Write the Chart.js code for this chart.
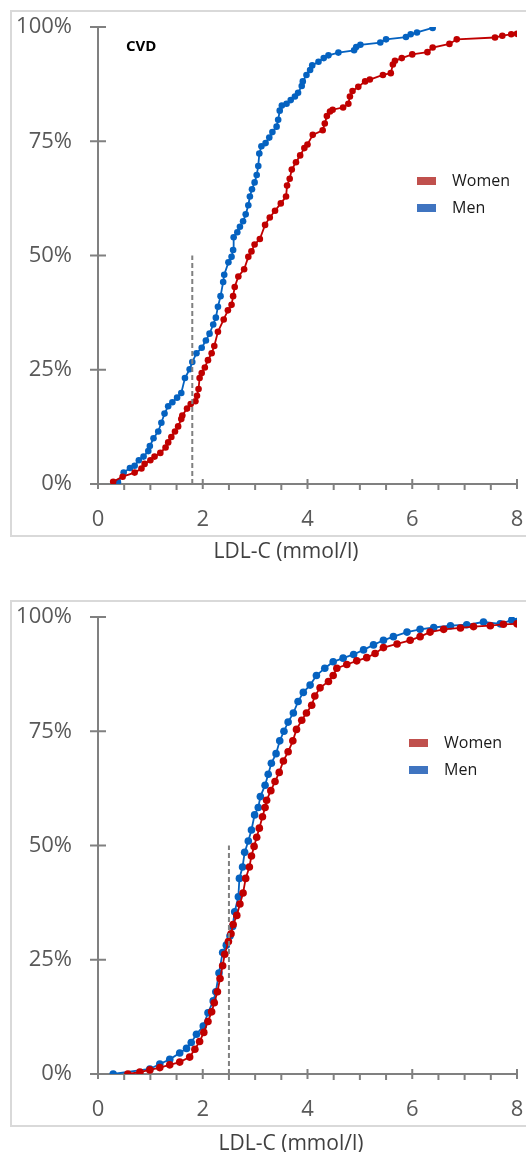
<!DOCTYPE html>
<html>
<head>
<meta charset="utf-8">
<script src="https://cdn.jsdelivr.net/npm/chart.js@4.4.1/dist/chart.umd.min.js"></script>
<style>
  body { margin: 0; width: 526px; height: 1152px; overflow: hidden; background: #fff; font-family: "Open Sans", sans-serif; }
  .panel { position: relative; width: 526px; height: 590px; }
  .frame { position: absolute; left: 10px; top: 10px; width: 620px; height: 527px; border: 2px solid #d9d9d9; box-sizing: border-box; }
  .xtitle { position: absolute; font-size: 21px; color: #404040; transform: translate(-50%, -50%); white-space: nowrap; }
  canvas { position: absolute; left: 0; top: 0; }
</style>
</head>
<body>
<div class="panel">
  <div class="frame"></div>
  <canvas id="cvd"></canvas>
  <div class="xtitle" style="left:286px; top:550px;">LDL-C (mmol/l)</div>
</div>
<div class="panel">
  <div class="frame"></div>
  <canvas id="all"></canvas>
  <div class="xtitle" style="left:291px; top:552px;">LDL-C (mmol/l)</div>
</div>
<script>
// ticks shared by both panels
const xTicks = [0, 2, 4, 6, 8];
const yTicks = [0, 25, 50, 75, 100];

// CVD panel: cumulative share (%) against LDL-C (mmol/l)
const cvdWomenLdl = [0.29, 0.47, 0.70, 0.83, 0.89, 1.00, 1.08, 1.19, 1.29, 1.34, 1.40, 1.47, 1.53, 1.59, 1.61, 1.70, 1.77, 1.86, 1.89, 1.92,
  1.94, 1.98, 2.04, 2.10, 2.17, 2.22, 2.29, 2.40, 2.48, 2.55, 2.58, 2.61, 2.68, 2.79, 2.87, 2.93, 2.99, 3.09, 3.19, 3.28,
  3.38, 3.49, 3.59, 3.61, 3.66, 3.70, 3.78, 3.86, 3.94, 4.00, 4.10, 4.29, 4.33, 4.37, 4.43, 4.48, 4.68, 4.78, 4.81, 4.86,
  4.97, 5.10, 5.19, 5.44, 5.59, 5.63, 5.67, 5.80, 6.00, 6.29, 6.39, 6.71, 6.85, 7.58, 7.72, 7.89, 8.00];
const cvdWomenPct = [0.5, 1.6, 2.5, 3.4, 4.4, 5.2, 6.0, 6.8, 8.0, 9.1, 10.3, 11.5, 12.6, 14.2, 15.0, 16.5, 17.5, 18.1, 19.3, 20.8,
  23.2, 24.3, 25.5, 27.1, 28.6, 30.2, 33.3, 36.0, 38.0, 39.2, 41.1, 43.1, 45.4, 47.0, 49.7, 50.9, 52.4, 53.6, 56.7, 58.3,
  59.8, 61.4, 62.9, 65.3, 66.8, 68.8, 70.4, 71.9, 73.5, 74.3, 76.4, 77.4, 78.9, 80.5, 81.5, 81.9, 82.4, 83.2, 84.8, 86.0,
  86.9, 88.1, 88.5, 89.5, 89.9, 91.8, 92.6, 93.2, 94.0, 94.5, 95.5, 96.3, 97.3, 97.7, 98.1, 98.4, 98.5];
const cvdMenLdl = [0.38, 0.49, 0.61, 0.70, 0.78, 0.87, 0.96, 0.99, 1.06, 1.15, 1.21, 1.27, 1.34, 1.42, 1.51, 1.59, 1.66, 1.75, 1.80, 1.88,
  1.98, 2.06, 2.13, 2.20, 2.25, 2.29, 2.34, 2.39, 2.41, 2.49, 2.55, 2.58, 2.59, 2.66, 2.71, 2.77, 2.82, 2.87, 2.90, 2.94,
  2.99, 3.03, 3.06, 3.08, 3.12, 3.20, 3.27, 3.33, 3.41, 3.44, 3.47, 3.51, 3.60, 3.68, 3.76, 3.82, 3.89, 3.91, 3.98, 4.05,
  4.09, 4.21, 4.31, 4.40, 4.59, 4.89, 4.93, 5.01, 5.39, 5.50, 5.88, 5.97, 6.09, 6.39];
const cvdMenPct = [0.4, 2.5, 3.5, 4.0, 5.2, 6.0, 7.2, 8.3, 10.0, 11.5, 13.4, 15.4, 17.0, 17.9, 18.9, 19.9, 23.2, 25.1, 26.7, 28.6,
  29.8, 31.4, 32.9, 34.9, 36.4, 38.8, 41.1, 44.2, 45.8, 48.5, 49.7, 51.2, 54.0, 55.1, 56.3, 57.5, 59.0, 61.0, 62.9, 64.5,
  66.0, 67.6, 69.6, 72.3, 73.9, 74.6, 75.8, 77.0, 78.2, 79.7, 81.7, 82.8, 83.2, 84.0, 84.8, 85.6, 87.1, 88.1, 89.5, 90.6,
  91.6, 92.4, 93.2, 93.8, 94.4, 94.9, 95.6, 96.1, 96.6, 97.3, 97.8, 98.4, 98.8, 99.8];

// second panel
const allWomenLdl = [0.57, 0.80, 0.99, 1.18, 1.37, 1.56, 1.75, 1.85, 1.94, 2.02, 2.10, 2.17, 2.22, 2.28, 2.33, 2.38, 2.42, 2.49, 2.54, 2.58,
  2.65, 2.71, 2.77, 2.82, 2.89, 2.93, 2.98, 3.03, 3.08, 3.14, 3.19, 3.22, 3.30, 3.38, 3.46, 3.54, 3.63, 3.72, 3.79, 3.89,
  3.98, 4.08, 4.14, 4.24, 4.40, 4.49, 4.56, 4.75, 4.94, 5.13, 5.29, 5.45, 5.71, 5.96, 6.15, 6.34, 6.60, 6.92, 7.17, 7.49,
  7.74, 8.00];
const allWomenPct = [0.0, 0.4, 0.9, 1.4, 2.0, 2.6, 3.7, 5.4, 7.1, 9.1, 11.5, 13.6, 15.6, 18.0, 20.9, 23.7, 26.2, 29.0, 30.7, 32.7,
  34.7, 37.2, 39.6, 42.8, 45.3, 47.7, 49.8, 51.8, 53.8, 56.3, 58.3, 59.9, 62.0, 64.0, 66.0, 68.5, 70.5, 72.9, 75.4, 77.4,
  79.0, 80.7, 82.7, 84.5, 85.9, 87.2, 88.8, 89.6, 90.4, 91.1, 92.0, 93.3, 94.1, 94.9, 95.7, 96.7, 97.3, 97.6, 97.9, 98.1,
  98.4, 98.5];
const allMenLdl = [0.29, 0.99, 1.18, 1.37, 1.56, 1.69, 1.78, 1.88, 2.01, 2.10, 2.20, 2.25, 2.31, 2.38, 2.45, 2.52, 2.57, 2.61, 2.68, 2.70,
  2.76, 2.80, 2.87, 2.93, 2.99, 3.06, 3.10, 3.19, 3.25, 3.31, 3.40, 3.47, 3.55, 3.63, 3.73, 3.82, 3.92, 4.05, 4.17, 4.33,
  4.49, 4.68, 4.88, 5.07, 5.26, 5.45, 5.64, 5.90, 6.15, 6.41, 6.73, 7.04, 7.36, 7.68, 7.90, 8.00];
const allMenPct = [0.0, 1.1, 2.2, 3.2, 4.6, 5.6, 6.9, 8.7, 10.5, 13.4, 16.0, 18.0, 22.1, 26.6, 28.2, 30.2, 32.3, 35.5, 38.8, 42.8,
  45.3, 48.5, 51.0, 53.4, 56.7, 58.3, 60.7, 63.2, 65.6, 68.0, 70.1, 72.9, 75.0, 77.0, 79.0, 81.5, 83.5, 85.1, 87.2, 88.8,
  90.2, 91.0, 91.8, 92.8, 93.9, 94.9, 95.7, 96.7, 97.3, 97.7, 98.1, 98.3, 98.9, 98.5, 99.3, 99.0];

const cvdCutoff = 1.8;
const allCutoff = 2.5;

const toPoints = (xs, ys) => xs.map((x, i) => ({ x: x, y: ys[i] }));

// Excel-like axes: crossing major ticks, small minor ticks below the x axis
const excelAxes = {
  id: 'excelAxes',
  beforeDatasetsDraw(chart, args, opts) {
    const { ctx } = chart;
    const x = chart.scales.x, y = chart.scales.y;
    const x0 = x.getPixelForValue(x.min), x1 = x.getPixelForValue(x.max);
    const yb = y.getPixelForValue(y.min), yt = y.getPixelForValue(y.max);
    ctx.save();
    ctx.strokeStyle = opts.color;
    ctx.lineWidth = opts.width;
    ctx.beginPath();
    ctx.moveTo(x0, yt);
    ctx.lineTo(x0, yb + opts.majorDown);
    ctx.moveTo(x0, yb);
    ctx.lineTo(x1, yb);
    yTicks.forEach(v => {
      const p = y.getPixelForValue(v);
      ctx.moveTo(x0 - opts.yTick, p);
      ctx.lineTo(x0 + opts.yTick, p);
    });
    for (let v = x.min; v <= x.max + 1e-9; v += opts.minorStep) {
      const p = x.getPixelForValue(v);
      if (xTicks.includes(v)) {
        ctx.moveTo(p, yb - opts.majorUp);
        ctx.lineTo(p, yb + opts.majorDown);
      } else {
        ctx.moveTo(p, yb);
        ctx.lineTo(p, yb + opts.minorDown);
      }
    }
    ctx.stroke();
    ctx.restore();
  }
};

const sideLegend = {
  id: 'sideLegend',
  afterDraw(chart, args, opts) {
    const { ctx } = chart;
    ctx.save();
    ctx.textBaseline = 'middle';
    ctx.textAlign = 'left';
    ctx.font = opts.font;
    let row = 0;
    chart.data.datasets.forEach(ds => {
      if (!ds.legendColor) return;
      const cy = opts.top + row * opts.rowGap;
      ctx.fillStyle = ds.legendColor;
      ctx.fillRect(opts.left, cy - 4, 19, 8);
      ctx.fillStyle = opts.textColor;
      ctx.fillText(ds.label, opts.left + opts.textGap, cy);
      row++;
    });
    if (opts.tag) {
      ctx.font = opts.tagFont;
      ctx.fillStyle = '#000';
      ctx.fillText(opts.tag, opts.tagX, opts.tagY);
    }
    ctx.restore();
  }
};

function makeChart(id, women, men, cutoff, legend, dot) {
  return new Chart(document.getElementById(id), {
    type: 'scatter',
    data: {
      datasets: [
        {
          label: 'cutoff',
          data: [{ x: cutoff, y: 0 }, { x: cutoff, y: 50 }],
          showLine: true,
          borderColor: '#808080',
          borderWidth: 2,
          borderDash: [5, 3],
          pointRadius: 0
        },
        {
          label: 'Women',
          data: women,
          showLine: true,
          borderColor: '#C00000',
          backgroundColor: '#C00000',
          legendColor: '#C0504D',
          borderWidth: 1.8,
          pointRadius: dot,
          pointBorderWidth: 0
        },
        {
          label: 'Men',
          data: men,
          showLine: true,
          borderColor: '#0562C0',
          backgroundColor: '#0562C0',
          legendColor: '#3F74C0',
          borderWidth: 1.8,
          pointRadius: dot,
          pointBorderWidth: 0
        }
      ]
    },
    options: {
      responsive: false,
      animation: false,
      layout: { padding: { top: 27, right: 9, left: 0, bottom: 0 } },
      scales: {
        x: {
          type: 'linear',
          min: 0,
          max: 8,
          afterBuildTicks: s => { s.ticks = xTicks.map(v => ({ value: v })); },
          afterFit: s => { s.height = 106; s.paddingLeft = 0; s.paddingRight = 0; },
          grid: { display: false, drawTicks: false },
          border: { display: false },
          ticks: { padding: 23, color: '#595959', font: { family: 'Open Sans', size: 22 } }
        },
        y: {
          min: 0,
          max: 100,
          afterBuildTicks: s => { s.ticks = yTicks.map(v => ({ value: v })); },
          afterFit: s => { s.width = 98; s.paddingTop = 0; s.paddingBottom = 0; },
          grid: { display: false, drawTicks: false },
          border: { display: false },
          ticks: { padding: 26, color: '#595959', font: { family: 'Open Sans', size: 22 }, callback: v => v + '%' }
        }
      },
      plugins: {
        legend: { display: false },
        tooltip: { enabled: false },
        excelAxes: { color: '#808080', width: 2, yTick: 8, majorUp: 5, majorDown: 5, minorDown: 6, minorStep: 0.5 },
        sideLegend: legend
      }
    },
    plugins: [excelAxes, sideLegend]
  });
}

for (const c of document.querySelectorAll('canvas')) { c.width = 526; c.height = 590; }

makeChart('cvd', toPoints(cvdWomenLdl, cvdWomenPct), toPoints(cvdMenLdl, cvdMenPct), cvdCutoff, {
  left: 417, top: 181, rowGap: 27, textGap: 35, font: '16px "Open Sans"', textColor: '#1a1a1a',
  tag: 'CVD', tagFont: 'bold 15px "Open Sans"', tagX: 126, tagY: 47
}, 3.3);
makeChart('all', toPoints(allWomenLdl, allWomenPct), toPoints(allMenLdl, allMenPct), allCutoff, {
  left: 409, top: 153, rowGap: 27, textGap: 35, font: '16px "Open Sans"', textColor: '#1a1a1a'
}, 3.8);
</script>
</body>
</html>
